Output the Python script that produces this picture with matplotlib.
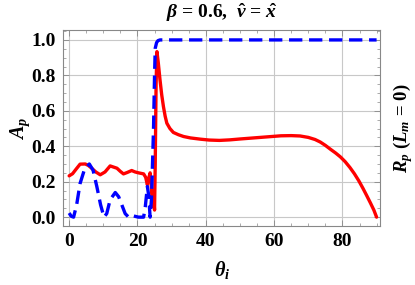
import matplotlib
matplotlib.use("Agg")
import matplotlib.pyplot as plt
from matplotlib.ticker import MultipleLocator

plt.rcParams['font.family'] = ['Liberation Serif', 'DejaVu Serif']
plt.rcParams['mathtext.fontset'] = 'custom'
plt.rcParams['mathtext.rm'] = 'Liberation Serif:bold'
plt.rcParams['mathtext.it'] = 'Liberation Serif:bold:italic'
plt.rcParams['mathtext.bf'] = 'Liberation Serif:bold'

# red solid curve: A_p
theta_red = [0, 1, 2, 3.2, 4.7, 5.6, 6.6, 7.8, 9.1, 10.5, 12.0, 14.0, 15.0, 15.9,
             17.0, 18.3, 19.3, 20.3, 21.8, 22.4, 22.9, 23.3, 23.7, 24.0, 24.4,
             24.8, 25.0, 25.2, 25.45, 25.7, 26.1, 26.6, 27.1, 27.6, 28.1, 28.6,
             29.5, 30.5, 32.0, 33.5, 35.5, 38.4, 41, 44, 47, 50, 54, 58, 62, 65,
             67.6, 70, 72, 73.5, 75, 76.5, 78, 79.4, 80.8, 82.2, 83.5, 84.8, 86,
             87.1, 88.2, 89.2, 90]
a_red = [0.233, 0.245, 0.27, 0.299, 0.30, 0.292, 0.276, 0.255, 0.239, 0.255,
         0.289, 0.276, 0.258, 0.244, 0.252, 0.263, 0.255, 0.25, 0.244, 0.225,
         0.182, 0.22, 0.25, 0.19, 0.06, 0.1, 0.04, 0.3, 0.75, 0.934, 0.87, 0.774,
         0.69, 0.624, 0.57, 0.53, 0.5, 0.478, 0.465, 0.455, 0.447, 0.44, 0.435,
         0.433, 0.436, 0.441, 0.447, 0.453, 0.459, 0.46, 0.458, 0.45, 0.438,
         0.424, 0.405, 0.383, 0.362, 0.34, 0.313, 0.28, 0.245, 0.205, 0.163,
         0.122, 0.08, 0.04, 0.0]

# blue dashed curve: R_p (L_m = 0)
theta_blue = [0, 0.6, 1.3, 2.2, 3.2, 4.5, 5.9, 7.0, 8.1, 9.2, 10.2, 11.0, 12.0, 13.5,
              14.5, 15.4, 16.4, 17.4, 18.3, 19.2, 20.3, 21.8, 22.3, 22.9, 23.3,
              23.7, 24.1, 24.4, 24.7, 25.0, 25.2, 25.6, 26.0, 26.6, 30, 40, 50, 60,
              70, 80, 90]
r_blue = [0.023, 0.005, 0.0, 0.07, 0.19, 0.27, 0.30, 0.265, 0.173, 0.07, 0.0, 0.02,
          0.098, 0.139, 0.115, 0.07, 0.02, 0.0, 0.01, 0.005, 0.0, 0.0, 0.06, 0.173,
          0.12, 0.0, 0.1, 0.30, 0.5, 0.8, 0.953, 0.985, 0.996, 1.0, 1.0, 1.0, 1.0,
          1.0, 1.0, 1.0, 1.0]

x_ticks = [0, 20, 40, 60, 80]
y_ticks = [0.0, 0.2, 0.4, 0.6, 0.8, 1.0]

fig = plt.figure(figsize=(4.15, 2.85), dpi=100)
ax = fig.add_axes([63/415, 1 - 226/285, (380-63)/415, (226-30)/285])

ax.plot(theta_red, a_red, color='#ff0000', lw=2.4, solid_joinstyle='round',
        solid_capstyle='round', zorder=3)
ax.plot(theta_blue, r_blue, color='#0000ff', lw=2.4, ls=(0, (4.0, 2.0)), zorder=4)

ax.set_xlim(-1.8, 91)
ax.set_ylim(-0.05, 1.056)
ax.set_xticks(x_ticks)
ax.set_yticks(y_ticks)
ax.set_xticklabels([str(t) for t in x_ticks])
ax.set_yticklabels([f"{t:.1f}" for t in y_ticks])
ax.xaxis.set_minor_locator(MultipleLocator(5))
ax.yaxis.set_minor_locator(MultipleLocator(0.05))
ax.tick_params(which='both', direction='in', top=True, right=True, color='#888888')
ax.tick_params(which='major', length=4, width=0.6, labelsize=14, pad=5)
ax.tick_params(which='minor', length=2.2, width=0.5)
for lab in ax.get_xticklabels() + ax.get_yticklabels():
    lab.set_fontweight('bold')
ax.grid(True, which='major', color='#c8c8c8', lw=0.8)
for s in ax.spines.values():
    s.set_color('#888888')
    s.set_linewidth(0.8)

fig.text(222/415, 1 - 13/285, r'$\beta$ = 0.6,  $\hat{v}$ = $\hat{x}$', ha='center', va='center',
         fontsize=14, fontweight='bold')
fig.text(20/415, 1 - 128/285, r'$A_p$', ha='center', va='center', rotation=90, fontsize=14.5)
fig.text(403/415, 1 - 128/285, r'$R_p$ $(L_m$ = 0)', ha='center', va='center', rotation=90,
         fontsize=13.5, fontweight='bold')
fig.text(222/415, 1 - 270/285, r'$\theta_i$', ha='center', va='center', fontsize=14.5)

fig.savefig('out.png', dpi=100)
